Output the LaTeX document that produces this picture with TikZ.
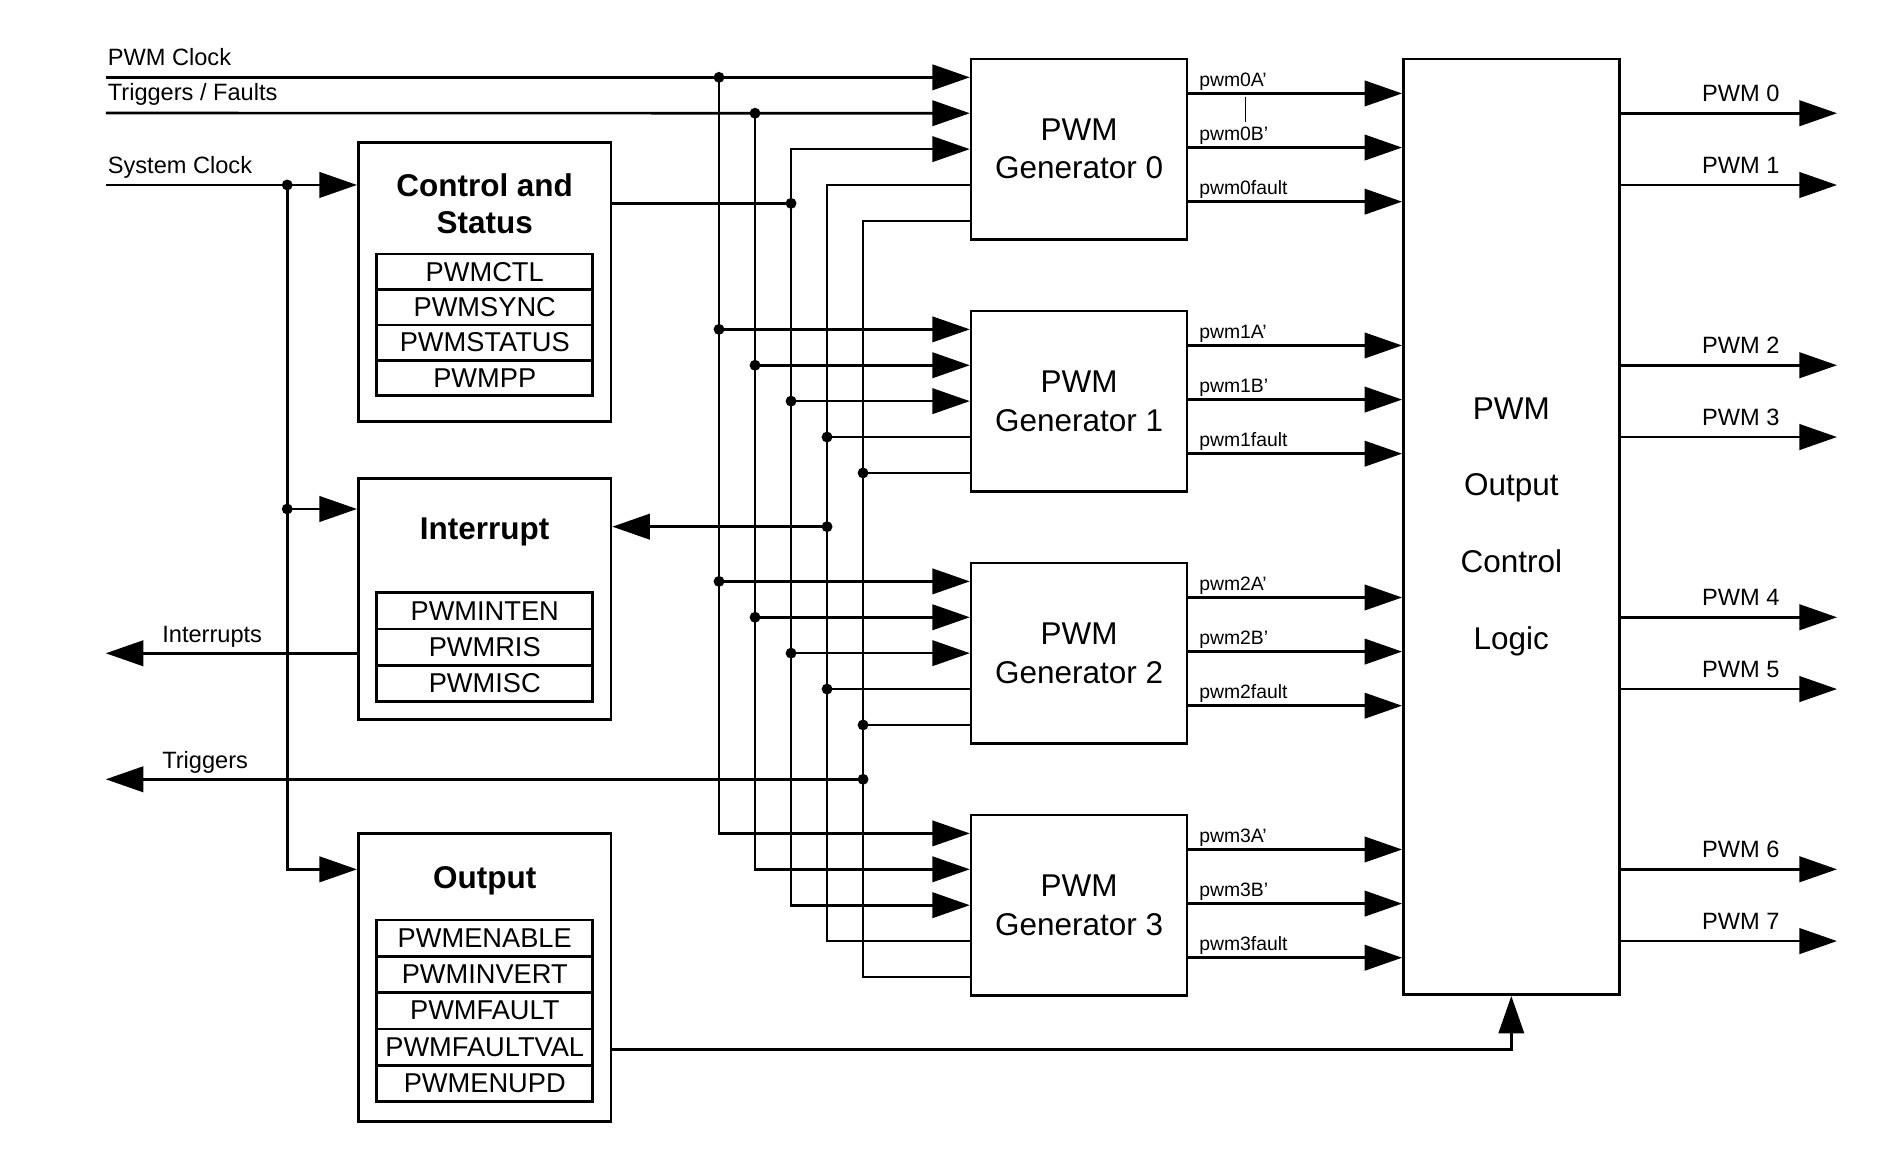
\documentclass[tikz,border=0pt]{standalone}
\usepackage{fontspec}
\setmainfont{Liberation Sans}
\usetikzlibrary{arrows.meta,calc}
\begin{document}
\begin{tikzpicture}[x=1pt,y=-1pt,line width=2.2pt,
  tip/.style={-{Triangle[length=31pt,width=21pt]}},
  tips/.style={{Triangle[length=31pt,width=21pt]}-{Triangle[length=31pt,width=21pt]}},
  dot/.style={circle,fill,draw=none,inner sep=0pt,minimum size=9pt},
  genbox/.style={draw,rectangle,inner sep=0pt,minimum width=178.3pt,minimum height=149pt,
    align=center,font=\fontsize{26}{31.7}\selectfont},
  ctlbox/.style={draw,rectangle,inner sep=0pt,minimum width=208.8pt},
  reg/.style={draw,rectangle,inner sep=0pt,minimum width=178.3pt,minimum height=30pt,
    font=\fontsize{22.5}{26}\selectfont},
  ttl/.style={anchor=base,inner sep=0pt,font=\bfseries\fontsize{26}{31}\selectfont},
  sig/.style={anchor=base west,inner sep=0pt,font=\fontsize{19.5}{23}\selectfont},
  outlbl/.style={anchor=base east,inner sep=0pt,font=\fontsize{19.5}{23}\selectfont},
  pinlbl/.style={anchor=base west,inner sep=0pt,font=\fontsize{16}{19}\selectfont}]

\fill[white] (0,0) rectangle (1568,968);
\useasboundingbox (0,0) rectangle (1568,968);

% output control logic block
\node[draw,rectangle,inner sep=0pt,minimum width=178.3pt,minimum height=773pt,
  align=center,font=\fontsize{26}{63.5}\selectfont] (ocl) at (1248.55,435.2)
  {PWM\\Output\\Control\\Logic};

% control and status block
\node[ctlbox,minimum height=230.4pt] (cs) at (400.4,233.1) {};
\node[ttl] (cs-t1) at (400.4,162) {Control and};
\node[ttl] (cs-t2) at (400.4,192.8) {Status};
\node[reg,minimum height=29.3pt] (r-ctl)  at (400.45,224.45) {PWMCTL};
\node[reg,minimum height=29.3pt] (r-sync) at (400.45,253.75) {PWMSYNC};
\node[reg,minimum height=29.3pt] (r-stat) at (400.45,283.05) {PWMSTATUS};
\node[reg,minimum height=29.3pt] (r-pp)   at (400.45,312.35) {PWMPP};

% interrupt block
\node[ctlbox,minimum height=198.8pt] (int) at (400.4,494.8) {};
\node[ttl] (int-t) at (400.4,445.5) {Interrupt};
\node[reg] (r-inten) at (400.45,504.6) {PWMINTEN};
\node[reg] (r-ris)   at (400.45,534.6) {PWMRIS};
\node[reg] (r-isc)   at (400.45,564.6) {PWMISC};

% output block
\node[ctlbox,minimum height=238.2pt] (outb) at (400.4,807.5) {};
\node[ttl] (outb-t) at (400.4,733.8) {Output};
\node[reg] (r-en)   at (400.45,775) {PWMENABLE};
\node[reg] (r-inv)  at (400.45,805) {PWMINVERT};
\node[reg] (r-flt)  at (400.45,835) {PWMFAULT};
\node[reg] (r-fval) at (400.45,865) {PWMFAULTVAL};
\node[reg] (r-upd)  at (400.45,895) {PWMENUPD};

% generators, their ports and outputs
\foreach \i in {0,...,3}{
  \pgfmathsetmacro\t{48.7+208.2*\i}
  \node[genbox] (g\i) at (891.45,\t+74.5) {PWM\\Generator \i};
  \foreach \k/\x in {0/594,1/623.75,2/653.5,3/683.25,4/713}{
    \coordinate (c\k-\i) at (\x,\t+15.2+29.65*\k);
    \coordinate (p\k-\i) at (g\i.west |- c\k-\i);
  }
  \foreach \j/\dy/\s in {0/29.6/A’,1/74.3/B’,2/119/fault}{
    \coordinate (q\j-\i) at ($(g\i.north east)+(0,\dy)$);
    \draw[tip] (q\j-\i) -- (ocl.west |- q\j-\i);
    \node[pinlbl] (l\j-\i) at ($(q\j-\i)+(8,-6)$) {pwm\i\s};
  }
  \pgfmathtruncatemacro\na{2*\i}
  \pgfmathtruncatemacro\nb{2*\i+1}
  \coordinate (o0-\i) at (ocl.east |- c1-\i);
  \coordinate (o1-\i) at (ocl.east |- c3-\i);
  \coordinate (e0-\i) at ($(o0-\i)+(178.8,0)$);
  \coordinate (e1-\i) at ($(o1-\i)+(178.8,0)$);
  \draw[tip] (o0-\i) -- (e0-\i);
  \draw[tip] (o1-\i) -- (e1-\i);
  \node[outlbl] (n0-\i) at ($(e0-\i)+(-46.5,-9.4)$) {PWM \na};
  \node[outlbl] (n1-\i) at ($(e1-\i)+(-46.5,-9.4)$) {PWM \nb};
}

% small tick between pwm0A' and pwm0B'
\coordinate (tk1) at (1029,79.9);
\coordinate (tk2) at (1029,100.5);
\draw[line width=0.8pt] (tk1) -- (tk2);

% inputs on the left
\coordinate (clkin) at (87.4,63.9);
\coordinate (trfin) at (87.4,93.4);
\coordinate (sysin) at (87.4,152.8);
\node[sig] (clk-l) at (88,54.3) {PWM Clock};
\node[sig] (trf-l) at (88,83.4) {Triggers / Faults};
\node[sig] (sys-l) at (88,143.2) {System Clock};

\draw[tip] (clkin) -- (p0-0);
\draw[tip] (trfin) -- (p1-0);

% distribution columns to the generators
\draw[tip] (c0-0) -- (c0-3) -- (p0-3);
\draw[tip] (c1-0) -- (c1-3) -- (p1-3);
\draw[tips] (p2-0) -- (c2-0) -- (c2-3) -- (p2-3);
\draw (p3-0) -- (c3-0) -- (c3-3) -- (p3-3);
\draw (p4-0) -- (c4-0) -- (c4-3) -- (p4-3);
\foreach \i in {1,2}{
  \foreach \k in {0,1,2}{\draw[tip] (c\k-\i) -- (p\k-\i);}
  \foreach \k in {3,4}{\draw (c\k-\i) -- (p\k-\i);}
  \foreach \k in {0,...,4}{\node[dot] (d\k-\i) at (c\k-\i) {};}
}
\node[dot] (d0-0) at (c0-0) {};
\node[dot] (d1-0) at (c1-0) {};

% control and status output
\coordinate (j-cs) at (653.5,168);
\draw (cs.east |- j-cs) -- (j-cs);
\node[dot] (dj-cs) at (j-cs) {};

% interrupt request from generators
\coordinate (j-int) at (683.25,435.1);
\draw[tip] (j-int) -- (int.east |- j-int);
\node[dot] (dj-int) at (j-int) {};

% triggers out
\coordinate (j-trg) at (713,643.8);
\coordinate (trgout) at (87.4,643.8);
\draw[tip] (j-trg) -- (trgout);
\node[dot] (dj-trg) at (j-trg) {};
\node[sig] (trg-l) at (133,634.7) {Triggers};

% interrupts out
\coordinate (intout) at (87.4,539.7);
\draw[tip] (int.west |- intout) -- (intout);
\node[sig] (intr-l) at (133,531) {Interrupts};

% system clock distribution
\coordinate (j-sys) at (237.3,152.8);
\coordinate (j-sys2) at (237.3,420.5);
\coordinate (sysbot) at (237.3,718.2);
\draw[tip] (sysin) -- (cs.west |- sysin);
\draw[tip] (j-sys) -- (sysbot) -- (outb.west |- sysbot);
\draw[tip] (j-sys2) -- (int.west |- j-sys2);
\node[dot] (dj-sys) at (j-sys) {};
\node[dot] (dj-sys2) at (j-sys2) {};

% fault value to the output control logic
\coordinate (fvc) at (ocl.south |- 0,866.9);
\draw[tip] (outb.east |- fvc) -- (fvc) -- (ocl.south);

\end{tikzpicture}
\end{document}
